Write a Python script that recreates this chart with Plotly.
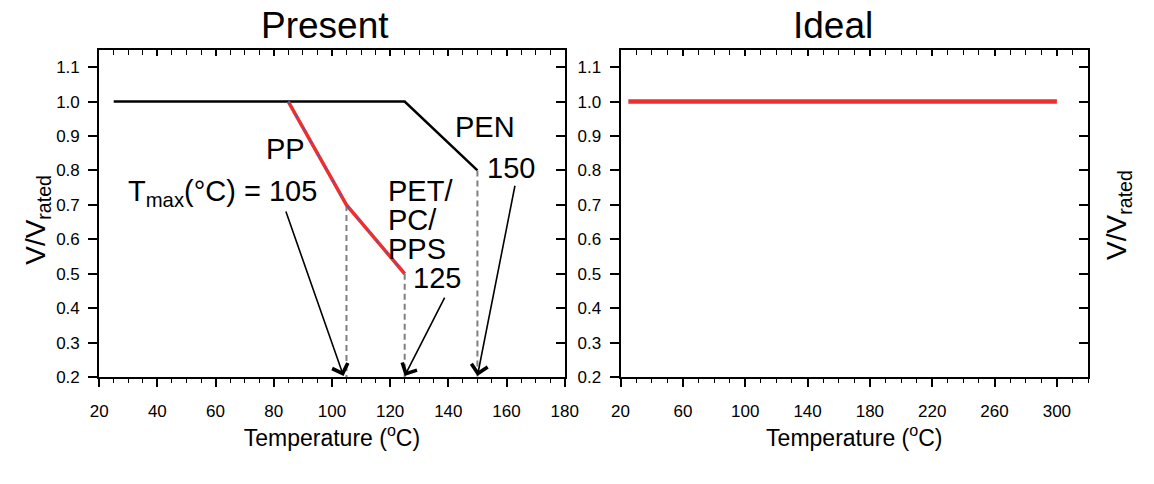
import plotly.graph_objects as go

# ---------------- data ----------------
pen_x = [25, 125, 150]
pen_y = [1.0, 1.0, 0.8]

pp_x = [85, 105, 125]
pp_y = [1.0, 0.7, 0.5]

tmax_x = [105, 125, 150]
tmax_y = [0.7, 0.5, 0.8]

ideal_x = [25, 300]
ideal_y = [1.0, 1.0]

y_ticks = [0.2, 0.3, 0.4, 0.5, 0.6, 0.7, 0.8, 0.9, 1.0, 1.1]
y_range = [0.2, 1.15]
x_range_present = [20, 180]
x_range_ideal = [20, 320]

# ---------------- style ----------------
FONT = "Liberation Sans, Arial, Helvetica, sans-serif"
RED = "#ec2f2f"
BLUE = "#4b5bc6"
GRAY = "#7f7f7f"
W, H = 1154, 484

dom_left = [92 / W, 567 / W]
dom_right = [624 / W, 1101 / W]
dom_y = [1 - 385 / H, 1 - 51 / H]

fig = go.Figure()

# Present panel
fig.add_trace(go.Scatter(x=pen_x, y=pen_y, mode="lines", line=dict(color="black", width=2.5),
                         xaxis="x", yaxis="y", showlegend=False, hoverinfo="skip"))
for xv, yv in zip(tmax_x, tmax_y):
    fig.add_trace(go.Scatter(x=[xv, xv], y=[yv, y_range[0]], mode="lines",
                             line=dict(color=GRAY, width=2, dash="6px,4px"),
                             xaxis="x", yaxis="y", showlegend=False, hoverinfo="skip"))
fig.add_trace(go.Scatter(x=pp_x, y=pp_y, mode="lines", line=dict(color=RED, width=3.5),
                         xaxis="x", yaxis="y", showlegend=False, hoverinfo="skip"))
fig.add_trace(go.Scatter(x=pp_x, y=pp_y, mode="lines", line=dict(color=BLUE, width=1.5, dash="3px,12px"),
                         xaxis="x", yaxis="y", showlegend=False, hoverinfo="skip"))

# Ideal panel
fig.add_trace(go.Scatter(x=ideal_x, y=ideal_y, mode="lines", line=dict(color=RED, width=4.5),
                         xaxis="x2", yaxis="y2", showlegend=False, hoverinfo="skip"))

# empty traces so mirror axes are drawn
for xa, ya in [("x3", "y"), ("x", "y3"), ("x4", "y2"), ("x2", "y4")]:
    fig.add_trace(go.Scatter(x=[], y=[], xaxis=xa, yaxis=ya, showlegend=False, hoverinfo="skip"))

tickfont = dict(family=FONT, size=17, color="black")
titlefont = dict(family=FONT, size=23, color="black")
ytitlefont = dict(family=FONT, size=28, color="black")

def bottom_x(domain, rng, dtick, minor, anchor):
    return dict(domain=domain, range=rng, anchor=anchor, dtick=dtick, tick0=20,
                showgrid=False, zeroline=False, showline=True, linecolor="black", linewidth=2,
                ticks="outside", ticklen=8, tickwidth=1.5, tickcolor="black",
                minor=dict(dtick=minor, tick0=20, ticks="outside", ticklen=4, tickwidth=1.2,
                           tickcolor="black", showgrid=False),
                ticklabelstandoff=10,
                tickfont=tickfont, title=dict(text="Temperature (<sup>o</sup>C)", font=titlefont, standoff=3),
                fixedrange=True)

def top_x(over, domain, rng, dtick, minor, anchor):
    return dict(overlaying=over, side="top", domain=domain, range=rng, anchor=anchor,
                dtick=dtick, tick0=20, showgrid=False, zeroline=False, showline=True,
                linecolor="black", linewidth=2, showticklabels=False,
                ticks="inside", ticklen=6, tickwidth=1.5, tickcolor="black",
                minor=dict(dtick=minor, tick0=20, ticks="inside", ticklen=5, tickwidth=1.2,
                           tickcolor="black", showgrid=False),
                fixedrange=True)

def left_y(anchor):
    return dict(domain=dom_y, range=y_range, anchor=anchor, tickvals=y_ticks, tickformat=".1f",
                showgrid=False, zeroline=False, showline=True, linecolor="black", linewidth=2,
                ticks="outside", ticklen=9, tickwidth=1.5, tickcolor="black",
                ticklabelstandoff=5, tickfont=tickfont, fixedrange=True)

def right_y(over, anchor):
    return dict(overlaying=over, side="right", domain=dom_y, range=y_range, anchor=anchor,
                tickvals=y_ticks, showgrid=False, zeroline=False, showline=True,
                linecolor="black", linewidth=2, showticklabels=False,
                ticks="inside", ticklen=9, tickwidth=1.5, tickcolor="black", fixedrange=True)

fig.update_layout(
    width=W, height=H,
    margin=dict(l=0, r=0, t=0, b=0),
    paper_bgcolor="white", plot_bgcolor="white",
    font=dict(family=FONT, color="black"),
    xaxis=bottom_x(dom_left, x_range_present, 20, 5, "y"),
    yaxis=left_y("x"),
    xaxis3=top_x("x", dom_left, x_range_present, 20, 5, "y"),
    yaxis3=right_y("y", "x"),
    xaxis2=bottom_x(dom_right, x_range_ideal, 40, 10, "y2"),
    yaxis2=left_y("x2"),
    xaxis4=top_x("x2", dom_right, x_range_ideal, 40, 10, "y2"),
    yaxis4=right_y("y2", "x2"),
)

ann_font = dict(family=FONT, size=29, color="black")

# panel titles
for txt, px in [("Present", 322), ("Ideal", 841)]:
    fig.add_annotation(text=txt, x=px / W, y=1 - 26 / H, xref="paper", yref="paper",
                       xanchor="center", yanchor="middle",
                       showarrow=False, font=dict(family=FONT, size=37, color="black"))

# y-axis titles (left of Present, right of Ideal)
for px, py in [(29, 224), (1132, 219)]:
    fig.add_annotation(text="V/V<sub>rated</sub>", x=px / W, y=1 - py / H, xref="paper", yref="paper",
                       xanchor="center", yanchor="middle", textangle=-90,
                       showarrow=False, font=ytitlefont)

# labels
labels = [
    ("PP", 84, 0.862, "center"),
    ("PEN", 152.5, 0.925, "center"),
    ("150", 161.5, 0.806, "center"),
    ("T<sub>max</sub>(°C) = 105", 62.5, 0.735, "center"),
    ("PET/", 118.5, 0.741, "left"),
    ("PC/", 118.5, 0.656, "left"),
    ("PPS", 118.5, 0.573, "left"),
    ("125", 136, 0.488, "center"),
]
for txt, xv, yv, anc in labels:
    fig.add_annotation(text=txt, x=xv, y=yv, xref="x", yref="y", xanchor=anc, yanchor="middle",
                       showarrow=False, font=ann_font)

# arrows from labels to Tmax points on the axis
arrow_tails = [(84, 0.685), (139, 0.435), (163, 0.76)]
arrow_tips_x = [104, 125, 150]
for (tx, ty), hx in zip(arrow_tails, arrow_tips_x):
    fig.add_annotation(x=hx, y=0.203, ax=tx, ay=ty, xref="x", yref="y", axref="x", ayref="y",
                       text="", showarrow=True, arrowhead=4, arrowsize=2, arrowwidth=1.6,
                       arrowcolor="black", standoff=0)

fig.write_html("out.html")
